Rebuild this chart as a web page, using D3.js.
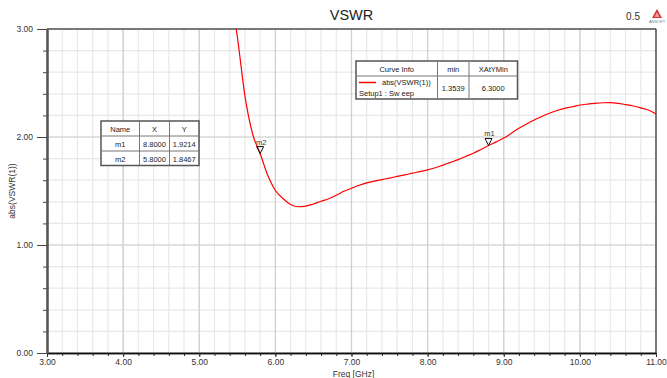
<!DOCTYPE html>
<html><head><meta charset="utf-8">
<script src="https://cdn.jsdelivr.net/npm/d3@7"></script>
<style>body{margin:0;background:#fff;} svg{display:block;font-family:"Liberation Sans",Arial,sans-serif;}</style>
</head><body><div id="chart"></div>
<script>
const freq = [5.4,5.5,5.6,5.7,5.8,5.9,6.0,6.1,6.2,6.3,6.4,6.5,6.6,6.7,6.8,6.9,7.0,7.1,7.2,7.3,7.4,7.5,7.6,7.7,7.8,7.9,8.0,8.1,8.2,8.3,8.4,8.5,8.6,8.7,8.8,8.9,9.0,9.1,9.2,9.3,9.4,9.5,9.6,9.7,9.8,9.9,10.0,10.1,10.2,10.3,10.4,10.5,10.6,10.7,10.8,10.9,11.0];
const vswr = [3.36,2.93,2.38,2.03,1.847,1.645,1.505,1.43,1.375,1.354,1.36,1.38,1.405,1.428,1.46,1.497,1.525,1.553,1.575,1.592,1.606,1.62,1.635,1.65,1.665,1.679,1.695,1.715,1.74,1.765,1.79,1.82,1.85,1.885,1.921,1.955,1.99,2.035,2.08,2.12,2.157,2.19,2.22,2.245,2.265,2.28,2.296,2.305,2.312,2.317,2.318,2.312,2.30,2.287,2.27,2.25,2.213];
const markerNames = ["m1","m2"];
const markerX = [8.8,5.8];
const markerY = [1.9214,1.8467];
const curveName = "abs(VSWR(1))";
const curveSetup = "Setup1 : Sw eep";
const curveMin = "1.3539";
const curveXAtYMin = "6.3000";
const xTicks = [3,4,5,6,7,8,9,10,11];
const yTicks = [0,1,2,3];

const W=667,H=378;
const m={l:47,r:11,t:29,b:25};
const svg=d3.select("#chart").append("svg").attr("width",W).attr("height",H);
const x=d3.scaleLinear().domain([3,11]).range([m.l,W-m.r]);
const y=d3.scaleLinear().domain([0,3]).range([H-m.b,m.t]);

const minorX=d3.range(3,11.0001,0.2), minorY=d3.range(0,3.0001,0.2);
const g=svg.append("g");
g.selectAll(".mx").data(minorX).join("line").attr("x1",d=>x(d)).attr("x2",d=>x(d)).attr("y1",y(0)).attr("y2",y(3)).attr("stroke","#e8e8e8").attr("stroke-width",1.2);
g.selectAll(".my").data(minorY).join("line").attr("y1",d=>y(d)).attr("y2",d=>y(d)).attr("x1",x(3)).attr("x2",x(11)).attr("stroke","#e8e8e8").attr("stroke-width",1.2);
g.selectAll(".Mx").data(xTicks).join("line").attr("x1",d=>x(d)).attr("x2",d=>x(d)).attr("y1",y(0)).attr("y2",y(3)).attr("stroke","#cfcfcf").attr("stroke-width",1.2);
g.selectAll(".My").data(yTicks).join("line").attr("y1",d=>y(d)).attr("y2",d=>y(d)).attr("x1",x(3)).attr("x2",x(11)).attr("stroke","#cfcfcf").attr("stroke-width",1.2);

svg.append("line").attr("x1",x(3)).attr("x2",x(11)).attr("y1",y(3)).attr("y2",y(3)).attr("stroke","#111").attr("stroke-width",1.2);
svg.append("line").attr("x1",x(11)).attr("x2",x(11)).attr("y1",y(3)).attr("y2",y(0)).attr("stroke","#333").attr("stroke-width",1.2);

const ax=svg.append("g").attr("transform",`translate(0,${y(0)})`);
ax.call(d3.axisBottom(x).tickValues(minorX).tickFormat("").tickSize(3).tickSizeOuter(0));
ax.append("g").call(d3.axisBottom(x).tickValues(xTicks).tickFormat(d3.format(".2f")).tickSize(4).tickSizeOuter(0));
ax.selectAll("path").attr("stroke","#111").attr("stroke-width",1.5);
ax.selectAll("line").attr("stroke","#333");
ax.selectAll("text").attr("font-size",8.5).attr("fill","#333").attr("y",6).attr("dy","0.71em").attr("font-family","Liberation Sans, Arial, sans-serif");

const ay=svg.append("g").attr("transform",`translate(${x(3)},0)`);
ay.call(d3.axisLeft(y).tickValues(minorY).tickFormat("").tickSize(4).tickSizeOuter(0));
ay.append("g").call(d3.axisLeft(y).tickValues(yTicks).tickFormat(d3.format(".2f")).tickSize(10).tickSizeOuter(0));
ay.selectAll("path").attr("stroke","#555").attr("stroke-width",2);
ay.selectAll("line").attr("stroke","#444");
ay.selectAll("text").attr("font-size",8.5).attr("fill","#333").attr("font-family","Liberation Sans, Arial, sans-serif").attr("x",-14);

svg.append("text").attr("x",(x(3)+x(11))/2).attr("y",20).attr("text-anchor","middle").attr("font-size",14.5).attr("fill","#222").text("VSWR");
svg.append("text").attr("x",x(7)+2).attr("y",377).attr("text-anchor","middle").attr("font-size",8.5).attr("fill","#333").text("Freq [GHz]");
svg.append("text").attr("transform",`translate(15,${(y(0)+y(3))/2}) rotate(-90)`).attr("text-anchor","middle").attr("font-size",8.5).attr("fill","#333").text("abs(VSWR(1))");
svg.append("text").attr("x",640).attr("y",20).attr("text-anchor","end").attr("font-size",10).attr("fill","#333").text("0.5");
const lg=svg.append("g").attr("transform","translate(657,9)");
lg.append("path").attr("d","M0,0 L5,9 L-5,9 Z").attr("fill","#c33");
lg.append("path").attr("d","M0,3 L2.5,8 L-2.5,8 Z").attr("fill","#f99");
lg.append("text").attr("x",0).attr("y",13.5).attr("text-anchor","middle").attr("font-size",4).attr("fill","#777").text("ANSOFT");

svg.append("clipPath").attr("id","cp").append("rect").attr("x",x(3)).attr("y",y(3)).attr("width",x(11)-x(3)).attr("height",y(0)-y(3));
const line=d3.line().x((d,i)=>x(freq[i])).y(d=>y(d)).curve(d3.curveMonotoneX);
svg.append("path").datum(vswr).attr("clip-path","url(#cp)").attr("d",line).attr("fill","none").attr("stroke","#f00").attr("stroke-width",1.2);

markerNames.forEach((n,i)=>{
  const px=x(markerX[i]), py=y(markerY[i]);
  svg.append("path").attr("d",`M${px-3.5},${py-7} L${px+3.5},${py-7} L${px},${py} Z`).attr("fill","none").attr("stroke","#111").attr("stroke-width",1);
  svg.append("text").attr("x",px+1).attr("y",py-9).attr("text-anchor","middle").attr("font-size",7.5).attr("fill","#333").text(n);
});

function table(x0,y0,cols,rowsH){
  const tw=d3.sum(cols), th=d3.sum(rowsH);
  const t=svg.append("g");
  t.append("rect").attr("x",x0).attr("y",y0).attr("width",tw).attr("height",th).attr("fill","#fff").attr("stroke","#555").attr("stroke-width",1.5);
  let cx=x0; cols.slice(0,-1).forEach(c=>{cx+=c; t.append("line").attr("x1",cx).attr("x2",cx).attr("y1",y0).attr("y2",y0+th).attr("stroke","#777");});
  let cy=y0; rowsH.slice(0,-1).forEach(r=>{cy+=r; t.append("line").attr("x1",x0).attr("x2",x0+tw).attr("y1",cy).attr("y2",cy).attr("stroke","#777");});
  return t;
}
const mt=table(101,121,[38.5,30,29.5],[15,15,14.5]);
const mcols=[101,139.5,169.5,199];
["Name","X","Y"].forEach((h,j)=>mt.append("text").attr("x",(mcols[j]+mcols[j+1])/2).attr("y",131.5).attr("text-anchor","middle").attr("font-size",7.5).attr("fill","#222").text(h));
markerNames.forEach((n,i)=>{
  const yy=146.5+i*15;
  [n,markerX[i].toFixed(4),markerY[i].toFixed(4)].forEach((v,j)=>mt.append("text").attr("x",(mcols[j]+mcols[j+1])/2).attr("y",yy).attr("text-anchor","middle").attr("font-size",7.5).attr("fill","#222").text(v));
});

const lt=table(356,61,[81.5,31.5,48.5],[15,23]);
const lcols=[356,437.5,469,517.5];
["Curve Info","min","XAtYMin"].forEach((h,j)=>lt.append("text").attr("x",(lcols[j]+lcols[j+1])/2).attr("y",71.5).attr("text-anchor","middle").attr("font-size",7.5).attr("fill","#222").text(h));
lt.append("line").attr("x1",359).attr("x2",376).attr("y1",82.5).attr("y2",82.5).attr("stroke","#f00").attr("stroke-width",1.5);
lt.append("text").attr("x",382).attr("y",85).attr("font-size",7.5).attr("fill","#222").text(curveName);
lt.append("text").attr("x",359).attr("y",96).attr("font-size",7.5).attr("fill","#222").text(curveSetup);
lt.append("text").attr("x",(lcols[1]+lcols[2])/2).attr("y",91).attr("text-anchor","middle").attr("font-size",7.5).attr("fill","#222").text(curveMin);
lt.append("text").attr("x",(lcols[2]+lcols[3])/2).attr("y",91).attr("text-anchor","middle").attr("font-size",7.5).attr("fill","#222").text(curveXAtYMin);
</script></body></html>
